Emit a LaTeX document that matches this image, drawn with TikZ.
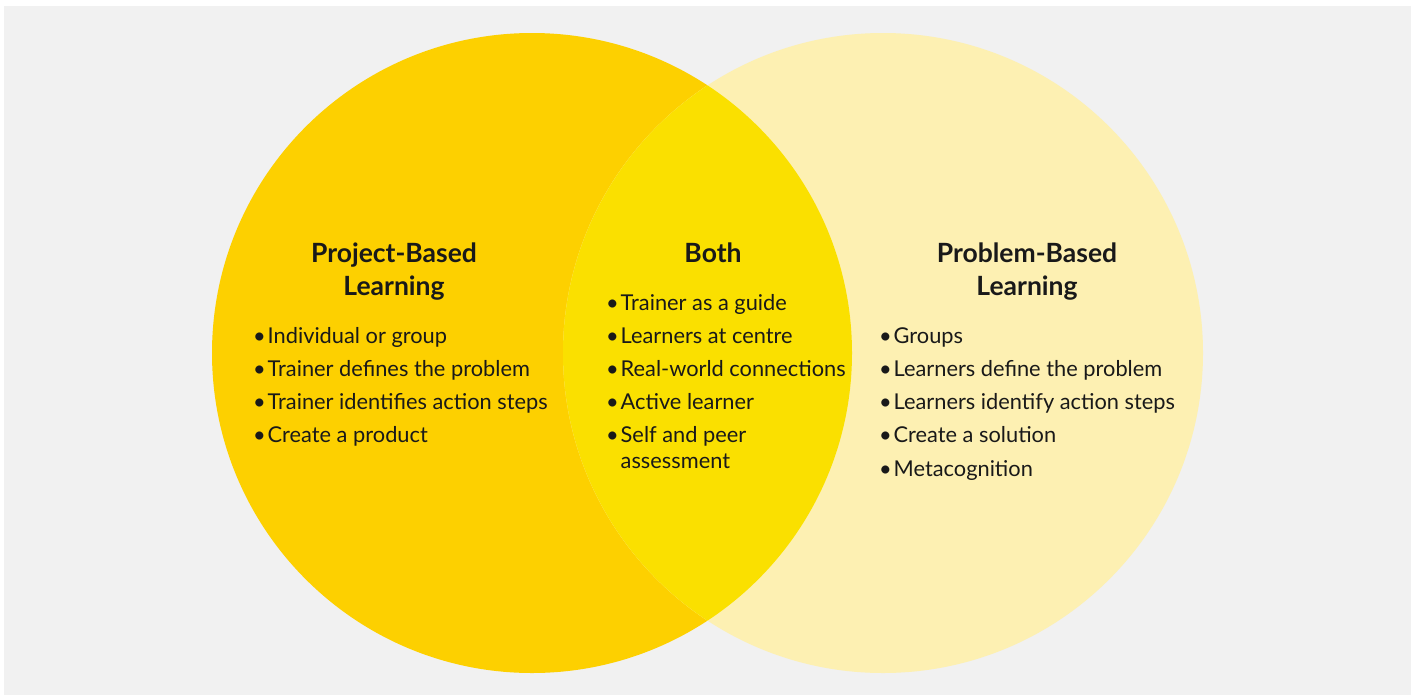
\documentclass[tikz,border=0pt]{standalone}
\usepackage{fontspec}
\setmainfont{Lato}
\usetikzlibrary{positioning}

\definecolor{projgold}{RGB}{253,208,0}
\definecolor{bothyellow}{RGB}{250,224,0}
\definecolor{probpale}{RGB}{253,240,178}
\definecolor{panelgray}{RGB}{241,241,241}

\newcommand{\bpoint}[1]{\makebox[14.5pt][l]{\textbullet}#1}

\begin{document}
\begin{tikzpicture}[
		x=1pt, y=-1pt,
		every node/.style={inner sep=0pt, text=black!90},
		heading/.style={align=center, anchor=base, font=\fontsize{26.5}{33}\selectfont\bfseries},
		item/.style={anchor=base west, font=\fontsize{21.8}{26}\selectfont}
	]
  \useasboundingbox (0,0) rectangle (1416,697);
  \fill[white] (0,0) rectangle (1416,697);
  \fill[panelgray] (4,6) rectangle (1411,695);

  % the two sets and their overlap
  \fill[projgold] (532,353) circle (320);
  \fill[probpale] (883,353) circle (320);
  \begin{scope}
    \clip (532,353) circle (320);
    \fill[bothyellow] (883,353) circle (320);
  \end{scope}

  % project-based
  \node (proj) [heading] at (394,295) {Project-Based\\Learning};
  \node (proj_1) [item] at (253,343) {\bpoint{Individual or group}};
  \node (proj_2) [item] at (253,376.3) {\bpoint{Trainer defines the problem}};
  \node (proj_3) [item] at (253,409.6) {\bpoint{Trainer identifies action steps}};
  \node (proj_4) [item] at (253,442.9) {\bpoint{Create a product}};

  % both
  \node (both) [heading] at (713,262) {Both};
  \node (both_1) [item] at (606,310) {\bpoint{Trainer as a guide}};
  \node (both_2) [item] at (606,343.3) {\bpoint{Learners at centre}};
  \node (both_3) [item] at (606,376.6) {\bpoint{Real-world connections}};
  \node (both_4) [item] at (606,409.9) {\bpoint{Active learner}};
  \node (both_5) [item, align=left] at (606,468.5) {\bpoint{Self and peer}\\\hspace*{14.5pt}assessment};

  % problem-based
  \node (prob) [heading] at (1027,295) {Problem-Based\\Learning};
  \node (prob_1) [item] at (879,343) {\bpoint{Groups}};
  \node (prob_2) [item] at (879,376.3) {\bpoint{Learners define the problem}};
  \node (prob_3) [item] at (879,409.6) {\bpoint{Learners identify action steps}};
  \node (prob_4) [item] at (879,442.9) {\bpoint{Create a solution}};
  \node (prob_5) [item] at (879,476.2) {\bpoint{Metacognition}};
\end{tikzpicture}
\end{document}
